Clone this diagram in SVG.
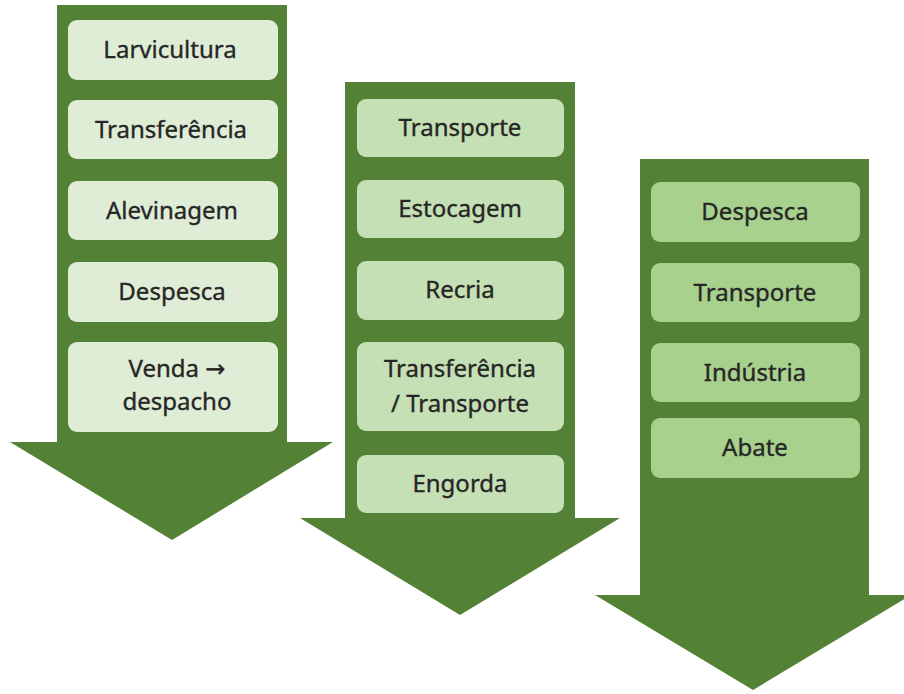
<svg xmlns="http://www.w3.org/2000/svg" width="904" height="694" viewBox="0 0 904 694">
<style>
.arrow{fill:#538135}
.b1{fill:#E0EDD6}
.b2{fill:#C5E0B4}
.b3{fill:#A9D18E}
text{font-family:"Noto Sans","Open Sans","DejaVu Sans",sans-serif;font-size:24px;fill:#262626;stroke:#262626;stroke-width:0.35px;text-anchor:middle}
</style>
<rect width="904" height="694" fill="#FFFFFF"/>
<g id="connectors">
<polygon id="arrow1" class="arrow" points="57,5 287,5 287,442 333,442 172,540 10,442 57,442"/>
<polygon id="arrow2" class="arrow" points="345,82 575,82 575,518 620,518 460,615 300,518 345,518"/>
<polygon id="arrow3" class="arrow" points="640,159 869,159 869,595 911,595 753,690 595,595 640,595"/>
</g>
<g id="n-larvicultura"><rect class="b1" x="68" y="20" width="210" height="60" rx="9"/><text x="170" y="58">Larvicultura</text></g>
<g id="n-transferencia1"><rect class="b1" x="68" y="100" width="210" height="59" rx="9"/><text x="171" y="138">Transferência</text></g>
<g id="n-alevinagem"><rect class="b1" x="68" y="181" width="210" height="59" rx="9"/><text x="172" y="219">Alevinagem</text></g>
<g id="n-despesca1"><rect class="b1" x="68" y="262" width="210" height="60" rx="9"/><text x="172" y="300">Despesca</text></g>
<g id="n-venda"><rect class="b1" x="68" y="342" width="210" height="90" rx="9"/><text x="177" y="377">Venda →</text><text x="177" y="410">despacho</text></g>
<g id="n-transporte1"><rect class="b2" x="357" y="99" width="207" height="58" rx="9"/><text x="460" y="136">Transporte</text></g>
<g id="n-estocagem"><rect class="b2" x="357" y="180" width="207" height="58" rx="9"/><text x="460" y="217">Estocagem</text></g>
<g id="n-recria"><rect class="b2" x="357" y="261" width="207" height="59" rx="9"/><text x="460" y="298">Recria</text></g>
<g id="n-transferencia2"><rect class="b2" x="357" y="342" width="207" height="89" rx="9"/><text x="460" y="377">Transferência</text><text x="460" y="412">/ Transporte</text></g>
<g id="n-engorda"><rect class="b2" x="357" y="455" width="207" height="58" rx="9"/><text x="460" y="492">Engorda</text></g>
<g id="n-despesca2"><rect class="b3" x="651" y="182" width="209" height="60" rx="9"/><text x="755" y="220">Despesca</text></g>
<g id="n-transporte2"><rect class="b3" x="651" y="263" width="209" height="59" rx="9"/><text x="755" y="301">Transporte</text></g>
<g id="n-industria"><rect class="b3" x="651" y="343" width="209" height="59" rx="9"/><text x="755" y="381">Indústria</text></g>
<g id="n-abate"><rect class="b3" x="651" y="418" width="209" height="60" rx="9"/><text x="755" y="456">Abate</text></g>
</svg>
